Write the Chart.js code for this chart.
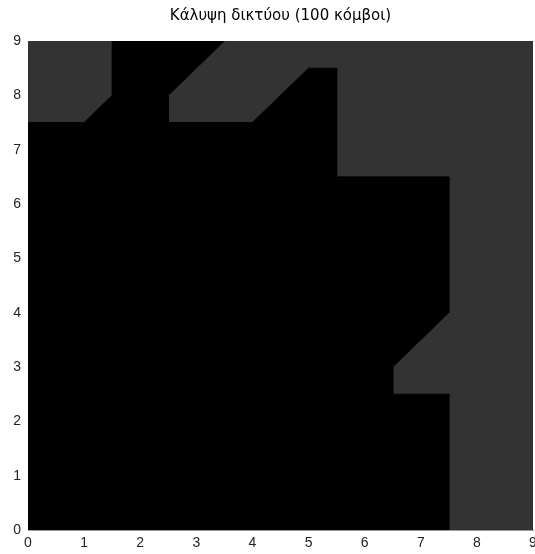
<!DOCTYPE html>
<html>
<head>
<meta charset="utf-8">
<script src="https://cdn.jsdelivr.net/npm/chart.js@4"></script>
<style>
  html, body { margin: 0; padding: 0; background: #fff; }
  #wrap { width: 535px; height: 554px; }
</style>
</head>
<body>
<div id="wrap"><canvas id="coverage"></canvas></div>
<script>
// region outlines on the 0..9 grid, [x, y] pairs
const uncoveredTopLeft = [[0, 9], [1.5, 9], [1.5, 8], [1, 7.5], [0, 7.5], [0, 9]];
const uncoveredRight = [[3.5, 9], [9, 9], [9, 0], [7.5, 0], [7.5, 2.5], [6.5, 2.5], [6.5, 3],
    [7.5, 4], [7.5, 6.5], [5.5, 6.5], [5.5, 8.5], [5, 8.5], [4, 7.5], [2.5, 7.5], [2.5, 8], [3.5, 9]];
const covered = [[1.5, 9], [3.5, 9], [2.5, 8], [2.5, 7.5], [4, 7.5], [5, 8.5], [5.5, 8.5],
    [5.5, 6.5], [7.5, 6.5], [7.5, 4], [6.5, 3], [6.5, 2.5], [7.5, 2.5], [7.5, 0], [0, 0],
    [0, 7.5], [1, 7.5], [1.5, 8], [1.5, 9]];
const tickValues = [0, 1, 2, 3, 4, 5, 6, 7, 8, 9];

function toPoints(arr) {
    return arr.map(function (p) {
        return { x: p[0], y: p[1] };
    });
}

function region(arr, color) {
    return {
        data: toPoints(arr),
        showLine: true,
        fill: 'shape',
        backgroundColor: color,
        borderColor: color,
        borderWidth: 1,
        pointRadius: 0,
        tension: 0
    };
}

const tickFont = { family: 'Liberation Sans', size: 14 };

const config = {
    type: 'scatter',
    data: {
        datasets: [
            region(covered, '#000000'),
            region(uncoveredTopLeft, '#333333'),
            region(uncoveredRight, '#333333')
        ]
    },
    options: {
        responsive: true,
        maintainAspectRatio: false,
        animation: false,
        layout: { padding: { right: 2, bottom: 0, left: 0, top: 0 } },
        plugins: {
            legend: { display: false },
            tooltip: { enabled: false },
            title: {
                display: true,
                fullSize: false,
                text: 'Κάλυψη δικτύου (100 κόμβοι)',
                color: '#000',
                font: { family: 'DejaVu Sans', size: 15, weight: 'normal' },
                padding: { top: 7, bottom: 16 }
            }
        },
        scales: {
            x: {
                type: 'linear',
                min: 0,
                max: 9,
                afterBuildTicks: function (axis) {
                    axis.ticks = tickValues.map(function (v) { return { value: v }; });
                },
                afterFit: function (axis) {
                    axis.height = 24;
                    // let the last label run off the edge instead of shrinking the plot
                    axis.paddingRight = 0;
                    axis.paddingLeft = 0;
                },
                grid: { display: false, drawTicks: false },
                border: { display: true, color: '#999' },
                ticks: { color: '#222', font: tickFont, padding: 5, maxRotation: 0 }
            },
            y: {
                type: 'linear',
                min: 0,
                max: 9,
                afterBuildTicks: function (axis) {
                    axis.ticks = tickValues.map(function (v) { return { value: v }; });
                },
                afterFit: function (axis) {
                    axis.width = 28;
                    axis.paddingTop = 0;
                    axis.paddingBottom = 0;
                },
                grid: { display: false, drawTicks: false },
                border: { display: true, color: '#999' },
                ticks: { color: '#222', font: tickFont, padding: 7 }
            }
        }
    }
};

const coverageChart = new Chart(document.getElementById('coverage'), config);
</script>
</body>
</html>
